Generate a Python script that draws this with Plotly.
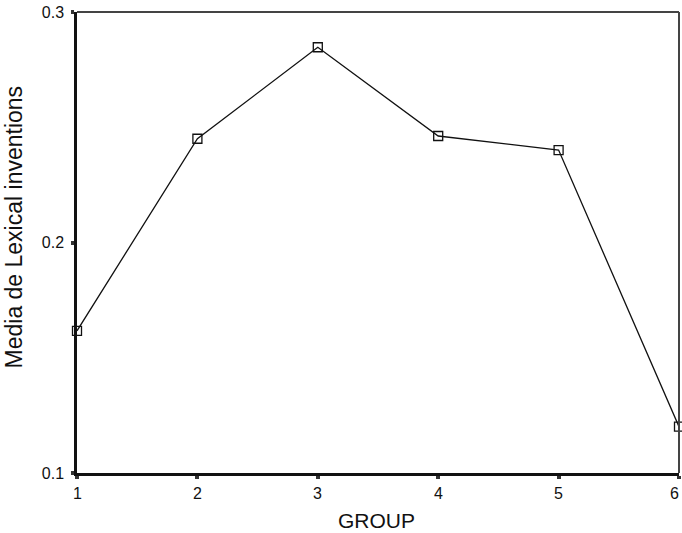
import plotly.graph_objects as go

groups = [1, 2, 3, 4, 5, 6]
mean_lexical = [0.1617, 0.2450, 0.2847, 0.2462, 0.2401, 0.1201]
x_ticks = [1, 2, 3, 4, 5, 6]
x_tick_labels = ["1", "2", "3", "4", "5", "6"]
y_ticks = [0.1, 0.2, 0.3]
y_tick_labels = ["0.1", "0.2", "0.3"]
x_title = "GROUP"
y_title = "Media de Lexical inventions"

fig = go.Figure()
fig.add_trace(go.Scatter(
    x=groups, y=mean_lexical, mode="lines+markers",
    line=dict(color="#111111", width=1.3),
    marker=dict(symbol="square-open", size=9, color="#111111", line=dict(width=1.3)),
    cliponaxis=False, showlegend=False,
))

font = "Liberation Sans, Arial, sans-serif"
annotations = []
for i, (xv, lab) in enumerate(zip(x_ticks, x_tick_labels)):
    last = i == len(x_ticks) - 1
    annotations.append(dict(
        text=lab, xref="x", yref="paper", x=xv, y=-0.0434,
        xanchor="right" if last else "center", xshift=2 if last else 0,
        yanchor="middle", showarrow=False, font=dict(size=16)))
annotations += [
    dict(text=x_title, xref="paper", yref="paper", x=0.498, y=-0.104,
         xanchor="center", yanchor="middle", showarrow=False,
         font=dict(size=21)),
    dict(text=y_title, xref="paper", yref="paper", x=-0.1047, y=0.5347,
         xanchor="center", yanchor="middle", textangle=-90, showarrow=False,
         font=dict(size=23)),
]

fig.update_layout(
    width=682, height=533,
    margin=dict(l=77, r=3, t=12, b=60),
    paper_bgcolor="white", plot_bgcolor="white",
    font=dict(family=font, color="#111111", size=16),
    xaxis=dict(
        range=[1, 6], tickvals=x_ticks, showticklabels=False,
        showgrid=False, zeroline=False,
        showline=True, linecolor="#111111", linewidth=2.5,
        ticks="outside", ticklen=3, tickwidth=4, tickcolor="#333333",
    ),
    yaxis=dict(
        range=[0.1, 0.3], tickvals=y_ticks, ticktext=y_tick_labels,
        showgrid=False, zeroline=False,
        showline=True, linecolor="#111111", linewidth=2.5,
        ticks="outside", ticklen=3, tickwidth=4, tickcolor="#333333",
        tickfont=dict(size=16), ticklabelstandoff=4,
    ),
    annotations=annotations,
    shapes=[
        dict(type="line", xref="paper", yref="paper", x0=0, x1=1, y0=1, y1=1,
             line=dict(color="#444444", width=2)),
        dict(type="line", xref="paper", yref="paper", x0=1, x1=1, y0=0, y1=1,
             line=dict(color="#444444", width=2)),
    ],
)

fig.write_html("out.html", config={"displayModeBar": False},
               post_script="document.body.style.margin='0';")
